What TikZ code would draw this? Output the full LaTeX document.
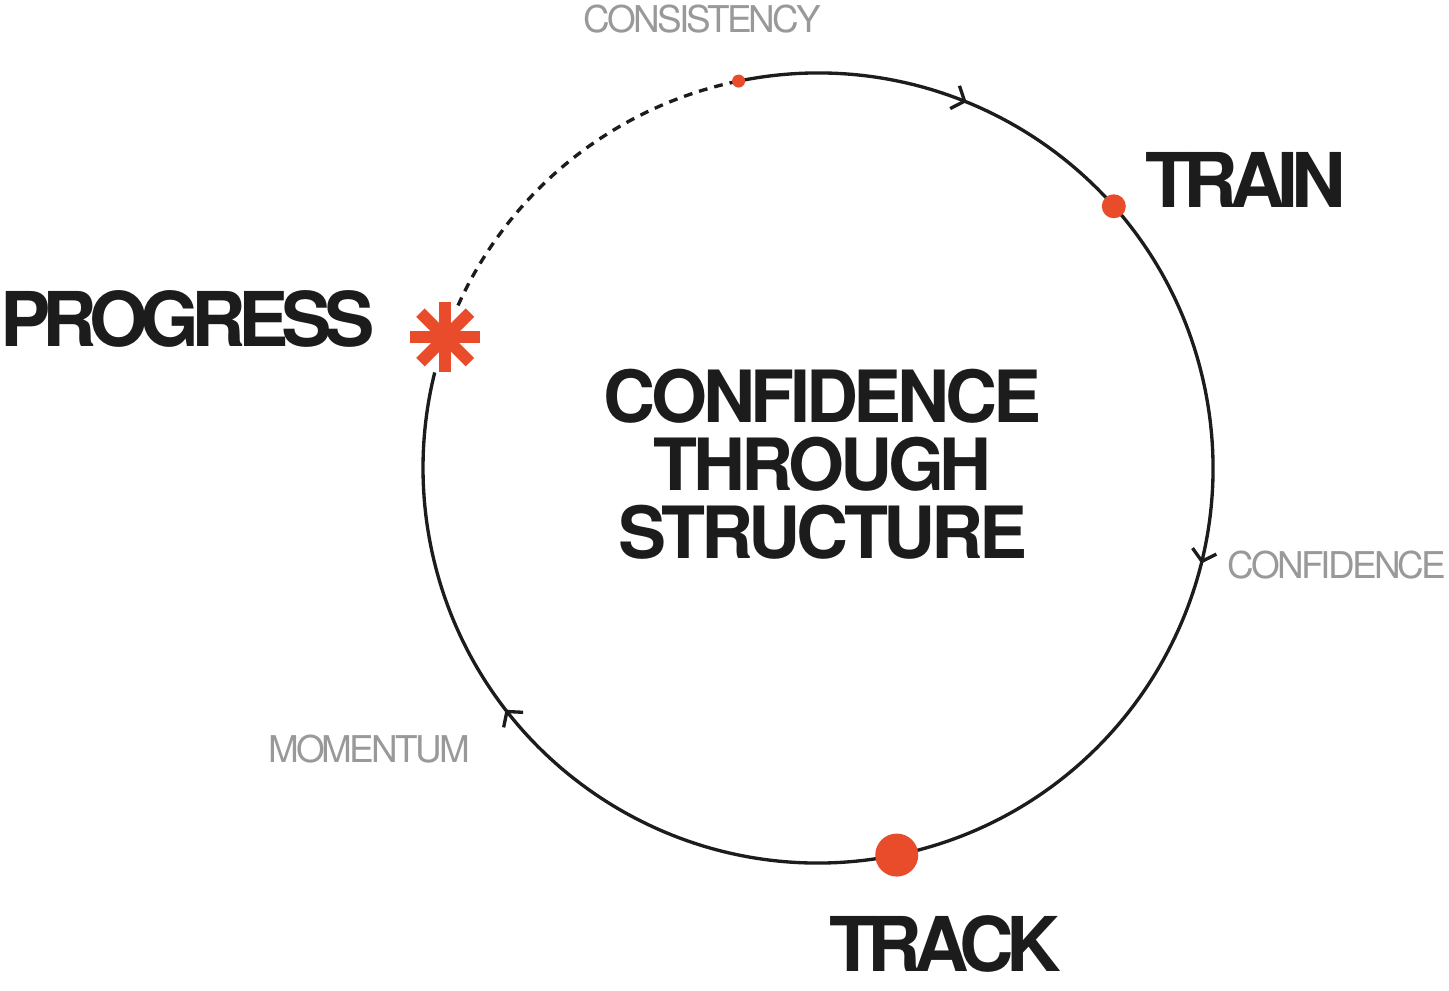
\documentclass[tikz,border=0pt]{standalone}
\usepackage{fontspec}
\setmainfont{TeX Gyre Heros}
\newfontfamily\bigfont[LetterSpace=-10]{TeX Gyre Heros}
\newfontfamily\midfont[LetterSpace=-6]{TeX Gyre Heros}
\newfontfamily\smallfont[LetterSpace=-7.5]{TeX Gyre Heros}
\usetikzlibrary{arrows.meta,decorations.markings}
\definecolor{accent}{RGB}{232,76,43}
\definecolor{ink}{RGB}{28,28,28}
\definecolor{soft}{RGB}{153,153,153}
\begin{document}
\begin{tikzpicture}[x=.02cm, y=.02cm, line join=round, >={Straight Barb[length=6pt,width=14pt]},
 stage/.style={font=\bigfont\bfseries\fontsize{43}{43}\selectfont, text=ink, inner sep=0pt},
 core/.style={font=\midfont\bfseries\fontsize{41}{38.6}\selectfont, text=ink, inner sep=0pt, align=center},
 cue/.style={font=\smallfont\fontsize{21}{21}\selectfont, text=soft, inner sep=0pt},
 ring/.style={draw=ink, line width=1.9pt}]
 \useasboundingbox (-818,-522) rectangle (631,468);
 % points on the ring
 \coordinate (pstart) at (101.6:395);
 \coordinate (ptrain) at (41.5:395);
 \coordinate (ptrack) at (-78.5:395);
 \coordinate (pstar) at (160.7:395);
 % ring
 \draw[ring, decoration={markings,
   mark=at position .114 with {\arrow{>}},
   mark=at position .391 with {\arrow{>}},
   mark=at position .825 with {\arrow{>}}}, postaction={decorate}]
   (pstart) arc (101.6:-194:395);
 \draw[ring, dash pattern=on 5pt off 4pt] (155.7:395) arc (155.7:101.6:395);
 % markers
 \fill[accent] (pstart) circle (6.5);
 \fill[accent] (ptrain) circle (12);
 \fill[accent] (ptrack) circle (21.5);
 \begin{scope}[shift={(pstar)}]
  \foreach\a in{0,45,90,135}{\draw[accent, line width=6.8pt](\a:35)--(\a+180:35);}
 \end{scope}
 % labels
 \node[stage] (progress) at (-630.5,149) {PROGRESS};
 \node[stage] (train) at (427.5,288.5) {TRAIN};
 \node[stage] (track) at (127,-475.5) {TRACK};
 \node[core] (title) at (4.75,4) {CONFIDENCE\\THROUGH\\STRUCTURE};
 \node[cue] (consistency) at (-115.5,449) {CONSISTENCY};
 \node[cue] (confidence) at (519,-97.5) {CONFIDENCE};
 \node[cue] (momentum) at (-449,-281.5) {MOMENTUM};
\end{tikzpicture}
\end{document}
